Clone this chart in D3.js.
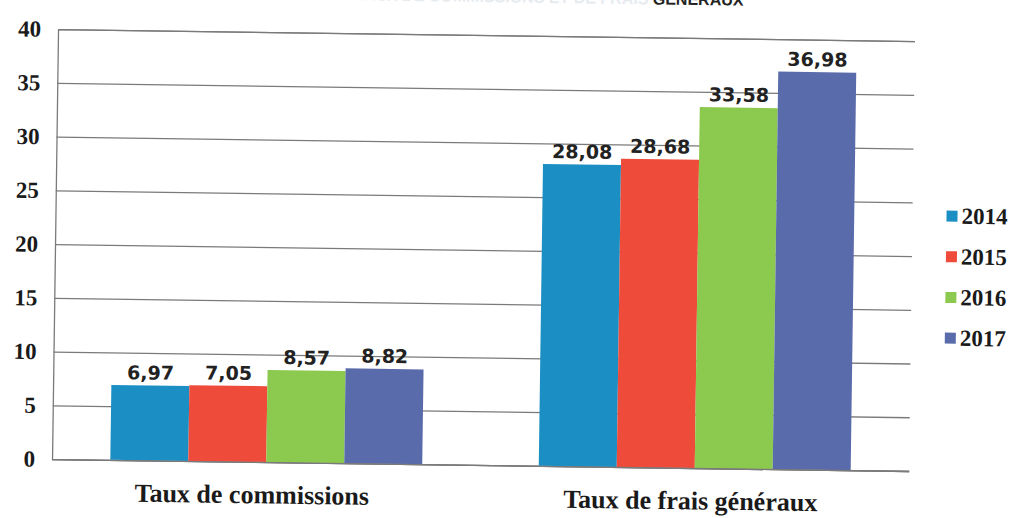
<!DOCTYPE html>
<html>
<head>
<meta charset="utf-8">
<script src="https://cdn.jsdelivr.net/npm/d3@7"></script>
<style>
  html, body { margin: 0; padding: 0; background: #fff; }
  svg { display: block; }
</style>
</head>
<body>
<svg id="chart" width="1014" height="518"></svg>
<script>
// Data
const categories = ["Taux de commissions", "Taux de frais généraux"];
const years = ["2014", "2015", "2016", "2017"];
const values2014 = [6.97, 28.08];
const values2015 = [7.05, 28.68];
const values2016 = [8.57, 33.58];
const values2017 = [8.82, 36.98];
const yTicks = [0, 5, 10, 15, 20, 25, 30, 35, 40];
const colors = ["#1b8fc4", "#ee4b3b", "#8cc94f", "#5a6bab"];

const seriesValues = [values2014, values2015, values2016, values2017];
const rows = categories.map((c, i) => ({
  category: c,
  values: years.map((y, j) => ({ year: y, value: seriesValues[j][i] }))
}));

const W = 1014, H = 518;
const margin = { left: 55, right: 102, top: 35, bottom: 53 };
const plotW = W - margin.left - margin.right;
const plotH = H - margin.top - margin.bottom;

const svg = d3.select("#chart");
// the whole page sits slightly tilted
const root = svg.append("g").attr("transform", "rotate(0.8, 480, 250)");

// Title (runs off the top edge)
root.append("text")
  .attr("x", 740).attr("y", 2)
  .attr("text-anchor", "end")
  .style("font-family", "Liberation Sans, Arial, sans-serif")
  .style("font-weight", "bold")
  .style("font-size", "16px")
  .call(t => {
    t.append("tspan").attr("fill", "#e6ebf0").text("TAUX DE COMMISSIONS ET DE FRAIS ");
    t.append("tspan").attr("fill", "#222").text("GÉNÉRAUX");
  });

const g = root.append("g").attr("transform", `translate(${margin.left},${margin.top})`);

const x0 = d3.scaleBand().domain(categories).range([0, plotW]).paddingInner(0.272).paddingOuter(0.136);
const x1 = d3.scaleBand().domain(years).range([0, x0.bandwidth()]);
const y = d3.scaleLinear().domain([0, 40]).range([plotH, 0]);
const color = d3.scaleOrdinal().domain(years).range(colors);

// Gridlines + y labels
const yAxis = d3.axisLeft(y).tickValues(yTicks).tickSize(-plotW).tickPadding(17).tickFormat(d3.format("d"));
const ya = g.append("g").call(yAxis);
ya.select(".domain").attr("stroke", "#7a7a7a").attr("stroke-width", 1.3);
ya.selectAll(".tick line").attr("stroke", "#7a7a7a").attr("stroke-width", 1.3);
ya.selectAll(".tick text")
  .attr("fill", "#1a1a1a")
  .style("font-family", "Liberation Serif, 'Times New Roman', serif")
  .style("font-weight", "bold")
  .style("font-size", "23px");

// Bars
const groups = g.selectAll(".grp").data(rows).join("g")
  .attr("class", "grp")
  .attr("transform", d => `translate(${x0(d.category)},0)`);

groups.selectAll("rect").data(d => d.values).join("rect")
  .attr("x", d => x1(d.year))
  .attr("width", x1.bandwidth())
  .attr("y", d => y(d.value))
  .attr("height", d => plotH - y(d.value))
  .attr("fill", d => color(d.year));

groups.selectAll("text.val").data(d => d.values).join("text")
  .attr("class", "val")
  .attr("x", d => x1(d.year) + x1.bandwidth() / 2)
  .attr("y", d => y(d.value) - 6)
  .attr("text-anchor", "middle")
  .attr("fill", "#222")
  .style("font-family", "DejaVu Sans, sans-serif")
  .style("font-weight", "bold")
  .style("font-size", "19px")
  .text(d => d3.format(".2f")(d.value).replace(".", ","));

// Category labels
const xAxis = d3.axisBottom(x0).tickSize(0).tickPadding(23);
const xa = g.append("g").attr("transform", `translate(0,${plotH})`).call(xAxis);
xa.select(".domain").attr("stroke", "#7a7a7a").attr("stroke-width", 1.3);
xa.selectAll(".tick text")
  .attr("fill", "#1a1a1a")
  .attr("dx", (d, i) => i === 0 ? -14 : -4)
  .style("font-family", "Liberation Serif, 'Times New Roman', serif")
  .style("font-weight", "bold")
  .style("font-size", "26px");

// Legend
const legend = root.append("g").attr("transform", "translate(946,209)");
const li = legend.selectAll("g").data(years).join("g")
  .attr("transform", (d, i) => `translate(0,${i * 40.7})`);
li.append("rect").attr("x", 0).attr("y", -5).attr("width", 11).attr("height", 11)
  .attr("fill", d => color(d));
li.append("text").attr("x", 15).attr("y", 0).attr("dy", "0.35em")
  .attr("fill", "#1a1a1a")
  .style("font-family", "Liberation Serif, 'Times New Roman', serif")
  .style("font-weight", "bold")
  .style("font-size", "23px")
  .text(d => d);
</script>
</body>
</html>
